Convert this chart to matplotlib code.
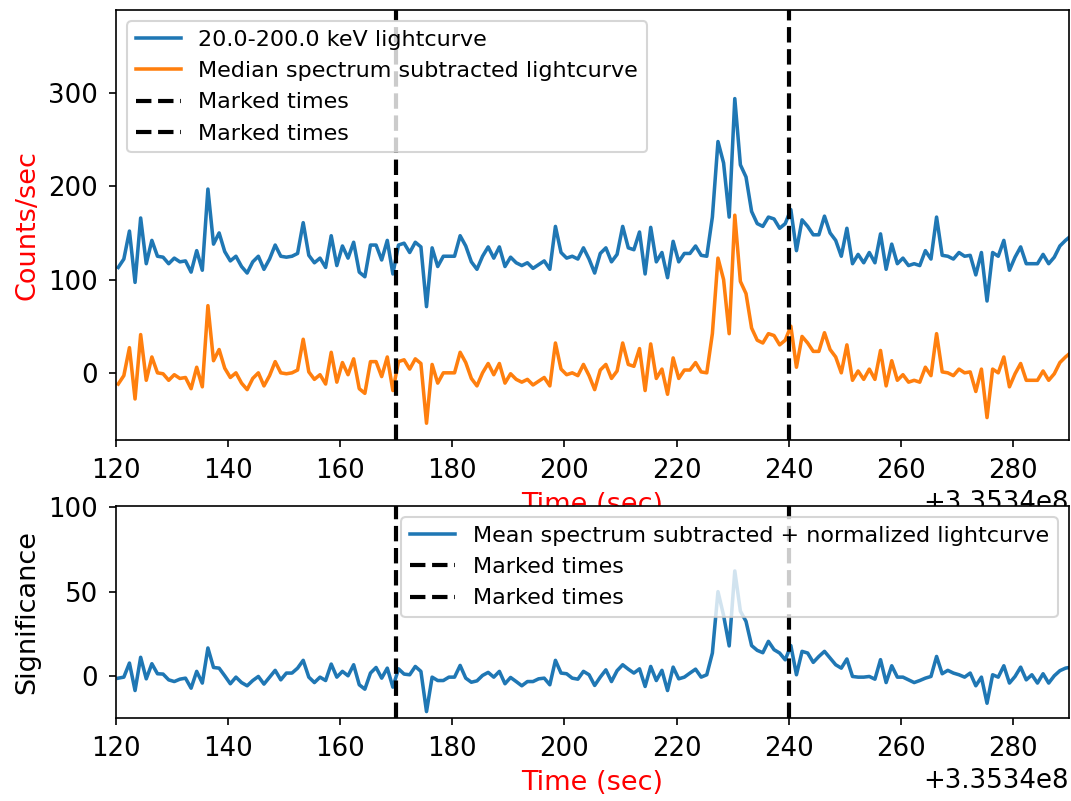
import numpy as np
import matplotlib
matplotlib.use("Agg")
import matplotlib.pyplot as plt

plt.rcParams["font.size"] = 10.7
plt.rcParams["lines.linewidth"] = 1.7
plt.rcParams["xtick.labelsize"] = 12.5
plt.rcParams["ytick.labelsize"] = 12.5
plt.rcParams["xtick.major.pad"] = 5
plt.rcParams["ytick.major.pad"] = 5
plt.rcParams["axes.labelsize"] = 13

# time bins (1 s) starting just after t0 + 120 s
t_ref = 335340120.0
t_first = 0.4
bin_width = 1.0

lightcurve = [
    113, 122, 152, 97, 166, 117, 142, 125, 124, 117,
    123, 119, 120, 108, 131, 110, 197, 138, 150, 130,
    120, 125, 114, 107, 119, 125, 111, 122, 137, 125,
    124, 125, 128, 161, 126, 118, 123, 113, 147, 115,
    136, 123, 140, 108, 103, 137, 137, 121, 142, 106,
    137, 139, 129, 140, 135, 71, 134, 114, 125, 125,
    125, 147, 136, 119, 111, 125, 135, 123, 135, 114,
    124, 118, 115, 118, 112, 116, 120, 111, 157, 129,
    123, 125, 122, 134, 122, 107, 128, 134, 119, 127,
    157, 134, 132, 151, 106, 156, 119, 129, 102, 141,
    119, 128, 128, 136, 126, 125, 167, 248, 225, 167,
    294, 223, 210, 173, 160, 157, 167, 165, 155, 160,
    175, 131, 164, 157, 148, 148, 168, 150, 142, 125,
    155, 117, 127, 118, 129, 118, 149, 111, 138, 117,
    123, 115, 117, 115, 131, 122, 167, 126, 125, 122,
    129, 125, 126, 105, 129, 77, 129, 125, 142, 110,
    124, 135, 117, 117, 117, 127, 117, 124, 136, 142,
    147,
]

median_sub = [
    -12, -3, 27, -28, 41, -8, 17, 0, -1, -8,
    -2, -6, -5, -17, 6, -15, 72, 13, 25, 5,
    -5, 0, -11, -18, -6, 0, -14, -3, 12, 0,
    -1, 0, 3, 36, 1, -7, -2, -12, 22, -10,
    11, -2, 15, -17, -22, 12, 12, -4, 17, -19,
    12, 14, 4, 15, 10, -54, 9, -11, 0, 0,
    0, 22, 11, -6, -14, 0, 10, -2, 10, -11,
    -1, -7, -10, -7, -13, -9, -5, -14, 32, 4,
    -2, 0, -3, 9, -3, -18, 3, 9, -6, 2,
    32, 9, 7, 26, -19, 31, -6, 4, -23, 16,
    -6, 3, 3, 11, 1, 0, 42, 123, 100, 42,
    169, 98, 85, 48, 35, 32, 42, 40, 30, 35,
    50, 6, 39, 32, 23, 23, 43, 25, 17, 0,
    30, -8, 2, -7, 4, -7, 24, -14, 13, -8,
    -2, -10, -8, -10, 6, -3, 42, 1, 0, -3,
    4, 0, 1, -20, 4, -48, 4, 0, 17, -15,
    -1, 10, -8, -8, -8, 2, -8, -1, 11, 17,
    22,
]

significance = [
    -1.0, -0.4, 7.9, -8.3, 11.3, -1.4, 7.5, 1.6, 1.4, -2.0,
    -3.0, -1.6, -1.0, -6.9, 3.0, -3.9, 16.8, 5.3, 4.9, 0.4,
    -4.3, -0.4, -3.6, -5.5, -2.4, 0.0, -4.5, -0.4, 3.6, -2.0,
    2.0, 2.0, 4.9, 9.5, -0.4, -3.6, -0.4, -2.4, 7.3, -0.4,
    3.0, 0.4, 6.9, -4.9, -7.5, 2.0, 5.3, -1.0, 4.9, -6.3,
    4.5, 1.4, 1.0, 5.9, 3.0, -20.7, -0.4, -2.4, -2.4, -0.4,
    -0.4, 6.5, -1.0, -3.4, -2.6, 0.6, 2.4, -0.4, 3.0, -4.3,
    -0.6, -3.0, -5.5, -3.0, -3.0, -1.4, -1.0, -4.9, 9.5, 2.0,
    1.6, -1.0, -1.6, 3.0, 1.0, -5.3, -0.4, 3.9, -3.0, 3.4,
    6.9, 4.3, 2.0, 4.5, -5.9, 5.9, -2.4, 3.6, -8.3, 5.5,
    -1.4, -0.4, 2.0, 4.3, -0.4, 1.0, 13.8, 50.0, 36.0, 18.0,
    62.2, 38.5, 32.5, 18.2, 15.4, 14.0, 20.7, 15.8, 13.8, 9.8,
    18.2, 1.0, 14.8, 13.8, 8.3, 11.8, 14.8, 10.9, 6.9, 4.9,
    10.3, 0.0, -0.4, -0.4, 0.0, -1.6, 9.9, -3.6, 6.3, -0.4,
    -0.4, -2.0, -3.6, -2.4, -1.0, 0.0, 11.8, 1.6, 3.6, 2.0,
    1.0, -0.4, 2.0, -5.5, -0.4, -15.8, 1.0, -0.4, 6.3, -3.9,
    0.0, 5.5, -2.0, 1.0, -3.9, 1.6, -3.9, 0.4, 3.4, 4.9,
    5.5,
]

marked_times = [335340170.0, 335340240.0]
energy_band = "20.0-200.0 keV"

times = t_ref + t_first + bin_width * np.arange(len(lightcurve))

fig = plt.figure(figsize=(7.14, 5.34), dpi=150)
ax1 = fig.add_axes([0.1083, 0.4507, 0.8897, 0.5368])
ax2 = fig.add_axes([0.1083, 0.1036, 0.8897, 0.2647])

# top panel
ax1.plot(times, lightcurve, label=energy_band + " lightcurve")
ax1.plot(times, median_sub, label="Median spectrum subtracted lightcurve")
for tm in marked_times:
    ax1.axvline(tm, color="k", ls="--", lw=2, label="Marked times")
ax1.set_xlim(335340120, 335340290)
ax1.set_ylim(-72, 389)
ax1.set_xlabel("Time (sec)", color="r")
ax1.set_ylabel("Counts/sec", color="r")
ax1.legend(loc="upper left")

# bottom panel
ax2.plot(times, significance, label="Mean spectrum subtracted + normalized lightcurve")
for tm in marked_times:
    ax2.axvline(tm, color="k", ls="--", lw=2, label="Marked times")
ax2.set_xlim(335340120, 335340290)
ax2.set_ylim(-24.5, 100.5)
ax2.set_yticks([0, 50, 100])
ax2.set_xlabel("Time (sec)", color="r")
ax2.set_ylabel("Significance")
ax2.legend(loc="upper right")

plt.savefig("out.png", dpi=150)
